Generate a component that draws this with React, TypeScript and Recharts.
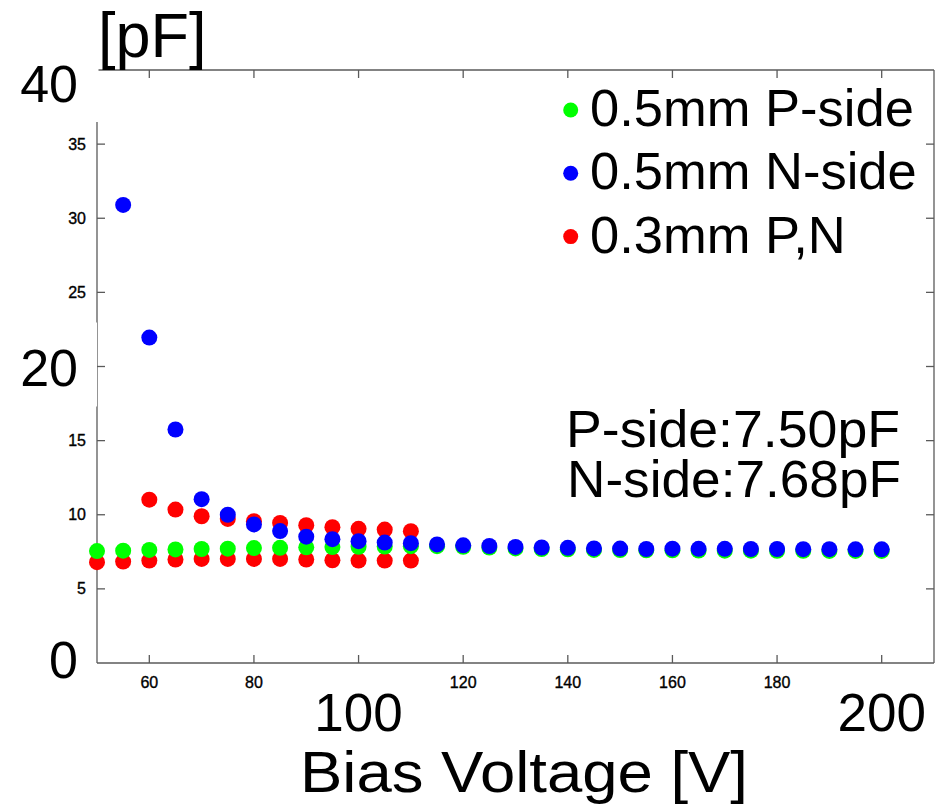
import React from 'react';
import { ScatterChart, Scatter, XAxis, YAxis, Legend } from 'recharts';

// bias voltage [V] and capacitance [pF]
const pSideVolt = [50, 55, 60, 65, 70, 75, 80, 85, 90, 95, 100, 105, 110, 115, 120, 125, 130, 135, 140, 145, 150, 155, 160, 165, 170, 175, 180, 185, 190, 195, 200];
const pSideCap = [7.55, 7.58, 7.63, 7.66, 7.69, 7.71, 7.75, 7.77, 7.8, 7.82, 7.84, 7.86, 7.88, 7.88, 7.84, 7.79, 7.73, 7.69, 7.67, 7.63, 7.62, 7.6, 7.6, 7.59, 7.58, 7.58, 7.57, 7.57, 7.56, 7.56, 7.56];

const nSideVolt = [55, 60, 65, 70, 75, 80, 85, 90, 95, 100, 105, 110, 115, 120, 125, 130, 135, 140, 145, 150, 155, 160, 165, 170, 175, 180, 185, 190, 195, 200];
const nSideCap = [30.9, 21.95, 15.75, 11.05, 10.0, 9.35, 8.9, 8.52, 8.35, 8.22, 8.12, 8.08, 8.0, 7.94, 7.89, 7.83, 7.79, 7.77, 7.73, 7.72, 7.69, 7.71, 7.7, 7.7, 7.69, 7.69, 7.68, 7.68, 7.67, 7.67];

const thinUpperVolt = [60, 65, 70, 75, 80, 85, 90, 95, 100, 105, 110];
const thinUpperCap = [11.02, 10.35, 9.9, 9.72, 9.56, 9.45, 9.29, 9.16, 9.05, 9.0, 8.89];
const thinLowerVolt = [50, 55, 60, 65, 70, 75, 80, 85, 90, 95, 100, 105, 110];
const thinLowerCap = [6.8, 6.84, 6.91, 6.98, 7.02, 7.02, 7.02, 7.02, 6.98, 6.93, 6.91, 6.91, 6.91];

const xTicks = [60, 80, 100, 120, 140, 160, 180, 200];
const xBigTicks = [100, 200];
const yTicks = [0, 5, 10, 15, 20, 25, 30, 35, 40];
const yBigTicks = [0, 20, 40];

const legendNames = ['0.5mm P-side', '0.5mm N-side', '0.3mm P,N'];

const FONT = 'Liberation Sans, Arial, Helvetica, sans-serif';
const AXIS = '#5a5a5a';
const GREEN = '#00ff00';
const BLUE = '#0000ff';
const RED = '#ff0000';

const toPoints = (xs: number[], ys: number[]) => xs.map((v, i) => ({ v, c: ys[i] }));

const pSideData = toPoints(pSideVolt, pSideCap);
const nSideData = toPoints(nSideVolt, nSideCap);
const thinData = [...toPoints(thinUpperVolt, thinUpperCap), ...toPoints(thinLowerVolt, thinLowerCap)];

const dot = (color: string) => (props: any) => <circle cx={props.cx} cy={props.cy} r={8} fill={color} />;

const small = { fontSize: 16, fontFamily: FONT, fill: '#000', stroke: '#000', strokeWidth: 0.35 };

const BottomTick = (props: any) => {
  const { x, y, payload } = props;
  const v = payload.value;
  const big = xBigTicks.includes(v);
  return (
    <g>
      <line x1={x} y1={y} x2={x} y2={y - 8} stroke={AXIS} strokeWidth={1.3} />
      {big ? (
        <text x={x} y={y + 68} textAnchor="middle" fontSize={53} fontFamily={FONT} fill="#000">{v}</text>
      ) : (
        <text x={x} y={y + 25} textAnchor="middle" {...small}>{v}</text>
      )}
    </g>
  );
};

const TopTick = (props: any) => {
  const { x, y } = props;
  return <line x1={x} y1={y} x2={x} y2={y + 8} stroke={AXIS} strokeWidth={1.3} />;
};

const bigDy: Record<number, number> = { 0: 15, 20: 19, 40: 32 };

const LeftTick = (props: any) => {
  const { x, y, payload } = props;
  const v = payload.value;
  if (yBigTicks.includes(v)) {
    return (
      <g>
        {v === 40 && <rect x={0} y={y - 70} width={x + 1.5} height={52 + 70} fill="#fff" />}
        {v === 20 && <rect x={0} y={y - 44} width={x} height={84} fill="#fff" />}
        {v !== 40 && v !== 0 && <line x1={x} y1={y} x2={x + 8} y2={y} stroke={AXIS} strokeWidth={1.3} />}
        <text x={x - 19} y={y + bigDy[v]} textAnchor="end" fontSize={52} fontFamily={FONT} fill="#000">{v}</text>
      </g>
    );
  }
  return (
    <g>
      <line x1={x} y1={y} x2={x + 8} y2={y} stroke={AXIS} strokeWidth={1.3} />
      <text x={x - 11} y={y + 5.5} textAnchor="end" {...small}>{v}</text>
    </g>
  );
};

const RightTick = (props: any) => {
  const { x, y, payload } = props;
  if (payload.value === 0 || payload.value === 40) return <g />;
  return <line x1={x} y1={y} x2={x - 8} y2={y} stroke={AXIS} strokeWidth={1.3} />;
};

const renderLegend = (props: any) => {
  const items = [...(props.payload || [])].sort(
    (a: any, b: any) => legendNames.indexOf(a.value) - legendNames.indexOf(b.value)
  );
  return (
    <svg width={386} height={200} style={{ display: 'block' }}>
      {items.map((it: any, i: number) => (
        <g key={it.value}>
          <circle cx={15.7} cy={34 + i * 63.3} r={7.5} fill={it.color} />
          <text x={35} y={50 + i * 63.3} fontSize={52.5} fontFamily={FONT} fill="#000">{it.value}</text>
        </g>
      ))}
    </svg>
  );
};

export default function App() {
  return (
    <div style={{ position: 'absolute', left: 0, top: 0, width: 941, height: 809, background: '#fff' }}>
      <ScatterChart width={941} height={809} margin={{ top: 69, right: 6, bottom: 145, left: 96 }}>
        <XAxis
          dataKey="v"
          type="number"
          domain={[50, 210]}
          ticks={xTicks}
          interval={0}
          height={1}
          tickSize={0}
          tickMargin={0}
          tickLine={false}
          axisLine={{ stroke: AXIS, strokeWidth: 1.3 }}
          tick={BottomTick}
        />
        <XAxis
          xAxisId="top"
          orientation="top"
          dataKey="v"
          type="number"
          domain={[50, 210]}
          ticks={xTicks}
          interval={0}
          height={1}
          tickSize={0}
          tickMargin={0}
          tickLine={false}
          axisLine={{ stroke: AXIS, strokeWidth: 1.3 }}
          tick={TopTick}
        />
        <YAxis
          dataKey="c"
          type="number"
          domain={[0, 40]}
          ticks={yTicks}
          interval={0}
          width={1}
          tickSize={0}
          tickMargin={0}
          tickLine={false}
          axisLine={{ stroke: AXIS, strokeWidth: 1.3 }}
          tick={LeftTick}
        />
        <YAxis
          yAxisId="right"
          orientation="right"
          dataKey="c"
          type="number"
          domain={[0, 40]}
          ticks={yTicks}
          interval={0}
          width={1}
          tickSize={0}
          tickMargin={0}
          tickLine={false}
          axisLine={{ stroke: AXIS, strokeWidth: 1.3 }}
          tick={RightTick}
        />
        <Legend
          layout="vertical"
          align="center"
          verticalAlign="middle"
          wrapperStyle={{ left: 555, top: 76, width: 386, height: 200 }}
          content={renderLegend}
        />
        <Scatter name="0.3mm P,N" data={thinData} fill={RED} shape={dot(RED)} isAnimationActive={false} />
        <Scatter name="0.5mm P-side" xAxisId="top" data={pSideData} fill={GREEN} shape={dot(GREEN)} isAnimationActive={false} />
        <Scatter name="0.5mm N-side" yAxisId="right" data={nSideData} fill={BLUE} shape={dot(BLUE)} isAnimationActive={false} />
      </ScatterChart>
      <svg width={941} height={809} style={{ position: 'absolute', left: 0, top: 0, pointerEvents: 'none' }}>
        <text x={98} y={57} fontSize={63} fontFamily={FONT} fill="#000">[pF]</text>
        <text x={300} y={792} fontSize={57} fontFamily={FONT} fill="#000" textLength={448} lengthAdjust="spacingAndGlyphs">
          Bias Voltage [V]
        </text>
        <text x={566} y={447} fontSize={52} fontFamily={FONT} fill="#000" textLength={334} lengthAdjust="spacingAndGlyphs">
          P-side:7.50pF
        </text>
        <text x={567} y={497} fontSize={52} fontFamily={FONT} fill="#000" textLength={334} lengthAdjust="spacingAndGlyphs">
          N-side:7.68pF
        </text>
      </svg>
    </div>
  );
}
